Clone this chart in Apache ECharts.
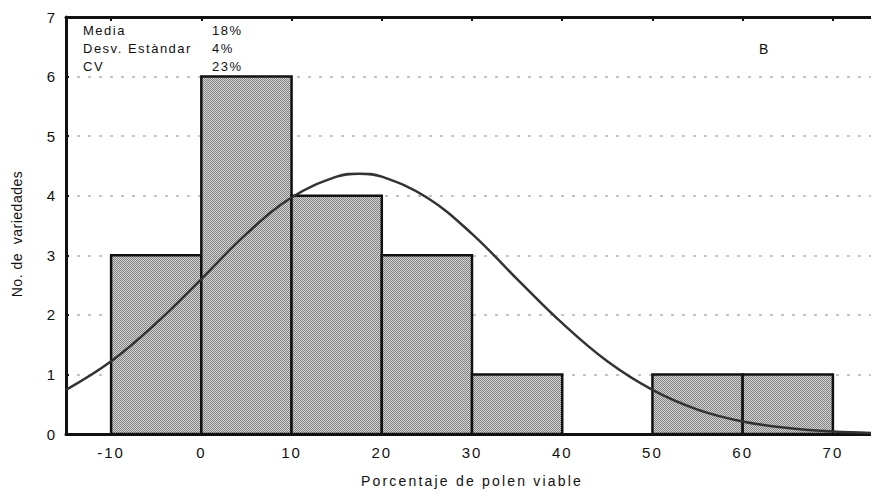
<!DOCTYPE html>
<html>
<head>
<meta charset="utf-8">
<script src="https://cdn.jsdelivr.net/npm/echarts@6/dist/echarts.min.js"></script>
<style>
  html, body { margin: 0; padding: 0; background: #fff; }
  #chart { width: 871px; height: 491px; }
  #chart image { image-rendering: pixelated; }
</style>
</head>
<body>
<div id="chart"></div>
<script>
  // intervalos del histograma
  var binStart = [-10, 0, 10, 20, 30, 40, 50, 60];
  var binEnd = [0, 10, 20, 30, 40, 50, 60, 70];
  var counts = [3, 6, 4, 3, 1, 0, 1, 1];

  // curva normal
  var curveX = [-15, -10, -5, 0, 5, 10, 15, 17.5, 20, 25, 30, 35, 40, 45, 50, 55, 60, 65, 70, 75];
  var curveY = [0.74, 1.22, 1.86, 2.6, 3.36, 3.97, 4.32, 4.37, 4.32, 3.97, 3.36, 2.6, 1.86, 1.22, 0.74, 0.41, 0.21, 0.1, 0.04, 0.015];

  var xTicks = [-10, 0, 10, 20, 30, 40, 50, 60, 70];

  var statNames = ['Media', 'Desv. Estàndar', 'CV'];
  var statValues = ['18%', '4%', '23%'];

  var xName = 'Porcentaje de polen viable';
  var yName = 'No. de  variedades';

  // trama gris (damero fino)
  var pc = document.createElement('canvas');
  pc.width = 2; pc.height = 2;
  var ctx = pc.getContext('2d');
  ctx.fillStyle = '#d2d2d2';
  ctx.fillRect(0, 0, 2, 2);
  ctx.fillStyle = '#858585';
  ctx.fillRect(0, 0, 1, 1);
  ctx.fillRect(1, 1, 1, 1);
  var hatch = { image: pc.toDataURL(), imageWidth: 2, imageHeight: 2, repeat: 'repeat' };

  var binData = [];
  for (var k = 0; k < counts.length; k++) {
    binData.push([binStart[k], binEnd[k], counts[k]]);
  }
  var curveData = curveX.map(function (x, i) { return [x, curveY[i]]; });

  var font = 'Liberation Sans, Arial, sans-serif';

  var graphics = [];
  statNames.forEach(function (s, i) {
    graphics.push({ type: 'text', left: 83, top: 24 + i * 18, style: { text: s, font: '13px ' + font, fill: '#111' } });
    graphics.push({ type: 'text', left: 212, top: 24 + i * 18, style: { text: statValues[i], font: '13px ' + font, fill: '#111' } });
  });
  graphics.push({ type: 'text', left: 759, top: 42, style: { text: 'B', font: '14px ' + font, fill: '#111' } });
  graphics.push({
    type: 'text', x: 17, y: 234, rotation: Math.PI / 2,
    style: { text: yName, font: '14px ' + font, fill: '#111', align: 'center', verticalAlign: 'middle' }
  });

  var myChart = echarts.init(document.getElementById('chart'), null, { renderer: 'svg' });
  myChart.setOption({
    animation: false,
    grid: { left: 66, right: -7, top: 17, bottom: 57, outerBoundsMode: 'none' },
    xAxis: [
      {
        type: 'value', min: -15, max: 75, position: 'bottom',
        name: xName, nameLocation: 'middle', nameGap: 40,
        nameTextStyle: { fontSize: 14, fontFamily: font, color: '#111' },
        axisLine: { show: true, onZero: false, lineStyle: { color: '#111', width: 3 } },
        axisTick: { show: false },
        axisLabel: { customValues: xTicks, fontSize: 15, fontFamily: font, color: '#111', margin: 11 },
        splitLine: { show: false }
      },
      {
        type: 'value', min: -15, max: 75, position: 'top',
        axisLine: { show: true, onZero: false, lineStyle: { color: '#111', width: 3 } },
        axisTick: { show: true, inside: true, length: 4, customValues: xTicks, lineStyle: { color: '#111', width: 2 } },
        axisLabel: { show: false },
        splitLine: { show: false }
      }
    ],
    yAxis: [
      {
        type: 'value', min: 0, max: 7, interval: 1, position: 'left',
        axisLine: { show: true, onZero: false, lineStyle: { color: '#111', width: 3 } },
        axisTick: { show: true, inside: true, length: 3, lineStyle: { color: '#111', width: 2 } },
        axisLabel: { fontSize: 15, fontFamily: font, color: '#111', margin: 9 },
        splitLine: { show: true, lineStyle: { color: '#c4c4c4', width: 2, type: [3, 8] } }
      },
      {
        type: 'value', min: 0, max: 7, interval: 1, position: 'right',
        axisLine: { show: true, onZero: false, lineStyle: { color: '#111', width: 3 } },
        axisTick: { show: false },
        axisLabel: { show: false },
        splitLine: { show: false }
      }
    ],
    series: [
      {
        type: 'custom',
        xAxisIndex: 0, yAxisIndex: 0,
        data: binData,
        z: 3,
        renderItem: function (params, api) {
          var c = api.value(2);
          if (!c) return null;
          var p0 = api.coord([api.value(0), c]);
          var p1 = api.coord([api.value(1), 0]);
          return {
            type: 'rect',
            shape: { x: p0[0], y: p0[1], width: p1[0] - p0[0], height: p1[1] - p0[1] },
            style: { fill: hatch, stroke: '#111', lineWidth: 2.5 }
          };
        }
      },
      {
        type: 'line',
        xAxisIndex: 0, yAxisIndex: 0,
        data: curveData,
        smooth: 0.4,
        symbol: 'none',
        z: 4,
        lineStyle: { color: '#333', width: 2.5 }
      }
    ],
    graphic: graphics
  });

  // espaciado de letras como en el original
  function spaceText() {
    var texts = document.querySelectorAll('#chart text');
    texts.forEach(function (t) {
      var s = t.textContent;
      var ls = 2;
      if (s === yName) ls = 0.5;
      else if (s === xName) ls = 2.2;
      else if (statNames.indexOf(s) >= 0 || statValues.indexOf(s) >= 0) ls = 1.5;
      else if (s === 'B') ls = 0;
      t.style.letterSpacing = ls + 'px';
    });
  }
  spaceText();
  myChart.on('finished', spaceText);
</script>
</body>
</html>
